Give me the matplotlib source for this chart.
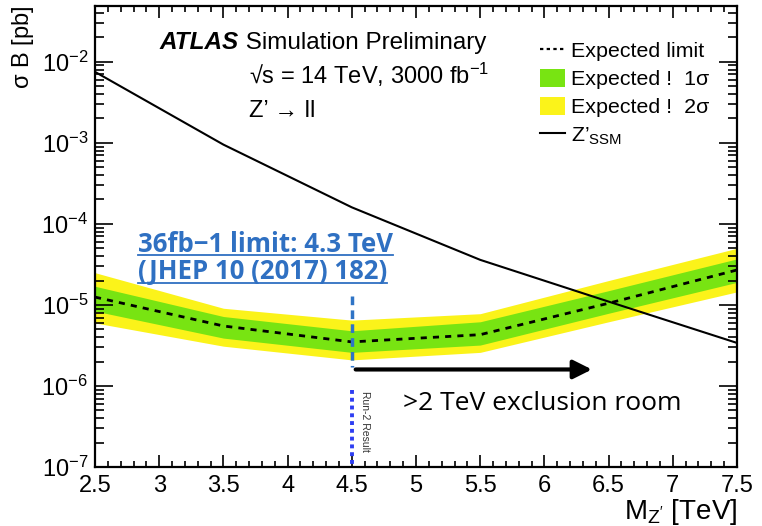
import numpy as np
import matplotlib
matplotlib.use("Agg")
import matplotlib.pyplot as plt
from matplotlib.ticker import MultipleLocator, LogLocator, NullFormatter
from matplotlib.lines import Line2D
from matplotlib.patches import Patch

plt.rcParams['font.family'] = ['Liberation Sans', 'DejaVu Sans']
plt.rcParams['mathtext.fontset'] = 'custom'
plt.rcParams['mathtext.rm'] = 'Liberation Sans'
plt.rcParams['mathtext.it'] = 'Liberation Sans:italic'
plt.rcParams['mathtext.bf'] = 'Liberation Sans:bold'
plt.rcParams['mathtext.default'] = 'regular'
plt.rcParams['axes.unicode_minus'] = False

# Z' -> ll expected limits (pb) vs mass (TeV)
mass = [2.5, 3.5, 4.5, 5.5, 6.5, 7.5]
exp_limit = [1.25e-5, 5.5e-6, 3.5e-6, 4.3e-6, 1.05e-5, 2.7e-5]
exp_1s_hi = [1.7e-5, 7.2e-6, 4.8e-6, 6.2e-6, 1.5e-5, 3.7e-5]
exp_1s_lo = [8.4e-6, 3.9e-6, 2.6e-6, 3.2e-6, 7.9e-6, 1.9e-5]
exp_2s_hi = [2.5e-5, 9.1e-6, 6.5e-6, 7.8e-6, 2.0e-5, 5.0e-5]
exp_2s_lo = [6.0e-6, 3.1e-6, 2.1e-6, 2.6e-6, 6.2e-6, 1.45e-5]
ssm_xsec = [7.5e-3, 9.5e-4, 1.6e-4, 3.6e-5, 1.1e-5, 3.4e-6]

# annotations
run2_mass = 4.5
run2_dash_y = [1.3e-5, 1.7e-6]
run2_dot_y = [8.9e-7, 1.0e-7]
arrow_x = [4.53, 6.37]
arrow_y = 1.6e-6

green = '#78e412'
yellow = '#fbf31a'
blue = '#2f70c2'

fig = plt.figure(figsize=(7.62, 5.26), dpi=100)
ax = fig.add_axes([0.1247, 0.112, 0.8425, 0.877])

ax.fill_between(mass, exp_2s_lo, exp_2s_hi, color=yellow, lw=0)
ax.fill_between(mass, exp_1s_lo, exp_1s_hi, color=green, lw=0)
ax.plot(mass, exp_limit, color='black', ls=(0, (2.2, 2.2)), lw=2)
ax.plot(mass, ssm_xsec, color='black', lw=1.5)

ax.set_yscale('log')
ax.set_xlim(2.5, 7.5)
ax.set_ylim(1e-7, 0.049)

ax.xaxis.set_minor_locator(MultipleLocator(0.1))
ax.set_xticks(np.arange(2.5, 7.51, 0.5))
ax.set_xticklabels(['2.5', '3', '3.5', '4', '4.5', '5', '5.5', '6', '6.5', '7', '7.5'])
ax.yaxis.set_major_locator(LogLocator(base=10, numticks=10))
ax.yaxis.set_minor_locator(LogLocator(base=10, subs=np.arange(2, 10), numticks=20))
ax.yaxis.set_minor_formatter(NullFormatter())

ax.tick_params(which='both', direction='in', top=True, right=True, labelsize=17, width=1.2)
ax.tick_params(axis='y', which='major', length=13, pad=5)
ax.tick_params(axis='y', which='minor', length=6.5)
ax.tick_params(axis='x', which='major', length=8.5, pad=6)
ax.tick_params(axis='x', which='minor', length=4.5)
for sp in ax.spines.values():
    sp.set_linewidth(1.6)

ax.set_xlabel("M$_{Z'}$ [TeV]", fontsize=20, loc='right', labelpad=0)
ax.set_ylabel(r'$\sigma$ B [pb]', fontsize=17, loc='top', labelpad=4)

# run-2 result marker
ax.plot([run2_mass, run2_mass], run2_dash_y, color='#2f74c6', ls=(0, (2.5, 1.5)), lw=2.5)
ax.plot([run2_mass, run2_mass], run2_dot_y, color='#2e3ef2', ls=(0, (1, 1)), lw=2.8)
ax.text(run2_mass + 0.1, 8.6e-7, 'Run-2 Result', rotation=-90, fontsize=7.5,
        ha='center', va='top', color='#333333')

ax.annotate('', xy=(arrow_x[1], arrow_y), xytext=(arrow_x[0], arrow_y),
            arrowprops=dict(arrowstyle='-|>', lw=3, color='black', mutation_scale=28,
                            shrinkA=0, shrinkB=0))
ax.text(0.480, 0.137, '>2 TeV exclusion room', transform=ax.transAxes, fontsize=19,
        family=['Open Sans', 'DejaVu Sans'], ha='left', va='center')

t1 = ax.text(0.067, 0.482, '36fb\u22121 limit: 4.3 TeV', transform=ax.transAxes, fontsize=18.5,
             family=['Open Sans', 'DejaVu Sans'], weight='bold', color=blue,
             ha='left', va='center')
t2 = ax.text(0.067, 0.423, '(JHEP 10 (2017) 182)', transform=ax.transAxes, fontsize=18.5,
             family=['Open Sans', 'DejaVu Sans'], weight='bold', color=blue,
             ha='left', va='center')

# ATLAS label
ta = ax.text(0.101, 0.895, 'ATLAS', transform=ax.transAxes, fontsize=17.5,
             weight='bold', style='italic', ha='left', va='bottom')
ax.annotate(' Simulation Preliminary', xy=(1, 0), xycoords=ta, fontsize=17.5,
            ha='left', va='bottom')
ax.text(0.240, 0.850, '\u221as = 14 TeV, 3000 fb$^{-1}$', transform=ax.transAxes,
        fontsize=17, ha='left', va='center')
ax.text(0.240, 0.772, "Z\u2019 \u2192 ll", transform=ax.transAxes,
        fontsize=17, ha='left', va='center')

handles = [Line2D([], [], color='black', ls=(0, (1.5, 1.5)), lw=1.6),
           Patch(facecolor=green, edgecolor='none'),
           Patch(facecolor=yellow, edgecolor='none'),
           Line2D([], [], color='black', lw=1.5)]
labels = ['Expected limit', 'Expected !  1\u03c3', 'Expected !  2\u03c3', "Z\u2019$_{SSM}$"]
ax.legend(handles, labels, loc='upper left', bbox_to_anchor=(0.693, 0.924), frameon=False,
          fontsize=15.4, handlelength=1.17, handleheight=0.9, handletextpad=0.3,
          labelspacing=0.37, borderpad=0, borderaxespad=0)

# underline the blue reference text
fig.canvas.draw()
inv = ax.transAxes.inverted()
for t in (t1, t2):
    bb = t.get_window_extent()
    (x0, y0), (x1, y1) = inv.transform([[bb.x0, bb.y0], [bb.x1, bb.y1]])
    ax.plot([x0, x1], [y0 + 0.006, y0 + 0.006], transform=ax.transAxes, color=blue, lw=1.3)

fig.savefig('out.png', dpi=100)
